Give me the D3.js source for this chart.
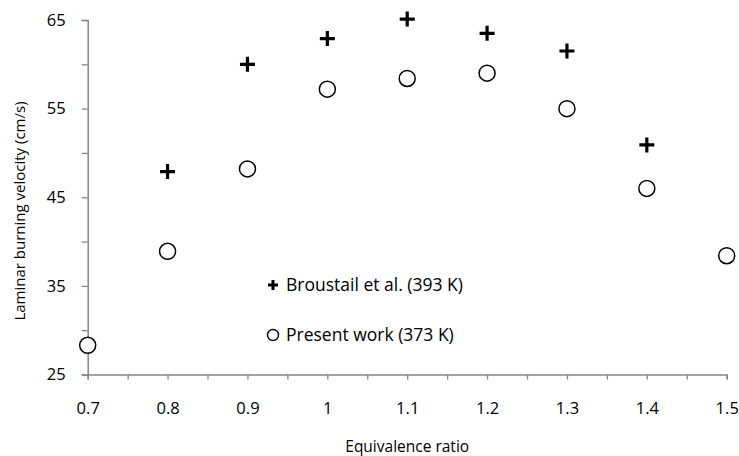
<!DOCTYPE html>
<html>
<head>
<meta charset="utf-8">
<script src="https://cdn.jsdelivr.net/npm/d3@7"></script>
<style>
  html, body { margin: 0; padding: 0; background: #fff; }
  svg { display: block; font-family: "Open Sans", "Lato", sans-serif; }
</style>
</head>
<body>
<svg id="chart" width="739" height="456"></svg>
<script>
// ---- data ----
const phiBroustail = [0.8, 0.9, 1.0, 1.1, 1.2, 1.3, 1.4];
const slBroustail  = [47.9, 60.0, 62.9, 65.1, 63.5, 61.5, 50.9];
const phiPresent   = [0.7, 0.8, 0.9, 1.0, 1.1, 1.2, 1.3, 1.4, 1.5];
const slPresent    = [28.3, 38.9, 48.2, 57.2, 58.4, 59.0, 55.0, 46.0, 38.4];
const xTicks = [0.7, 0.75, 0.8, 0.85, 0.9, 0.95, 1.0, 1.05, 1.1, 1.15, 1.2, 1.25, 1.3, 1.35, 1.4, 1.45, 1.5];
const xTickLabels = ["0.7", "", "0.8", "", "0.9", "", "1", "", "1.1", "", "1.2", "", "1.3", "", "1.4", "", "1.5"];
const yTicks = [25, 30, 35, 40, 45, 50, 55, 60, 65];
const yTickLabels = ["25", "", "35", "", "45", "", "55", "", "65"];
const legendLabels = ["Broustail et al. (393 K)", "Present work (373 K)"];
const xTitle = "Equivalence ratio";
const yTitle = "Laminar burning velocity (cm/s)";

// ---- layout ----
const svg = d3.select("#chart");
const mLeft = 87.7, mRight = 726.7, mTop = 20, mBottom = 374.5;
const axisColor = "#868686";

const x = d3.scaleLinear().domain([0.7, 1.5]).range([mLeft, mRight]);
const y = d3.scaleLinear().domain([25, 65]).range([mBottom, mTop]);

// y axis
const yAxis = svg.append("g")
  .attr("transform", `translate(${mLeft},0)`)
  .call(d3.axisLeft(y).tickValues(yTicks).tickSize(6).tickPadding(16)
    .tickFormat((d, i) => yTickLabels[i]));
// x axis
const xAxis = svg.append("g")
  .attr("transform", `translate(0,${mBottom})`)
  .call(d3.axisBottom(x).tickValues(xTicks).tickSize(5).tickPadding(23)
    .tickFormat((d, i) => xTickLabels[i]));

[xAxis, yAxis].forEach(g => {
  g.select(".domain").attr("stroke", axisColor).attr("stroke-width", 1.5);
  g.selectAll(".tick line").attr("stroke", axisColor).attr("stroke-width", 1.3);
  g.selectAll(".tick text").attr("fill", "#000").style("font-size", "16.5px")
    .attr("font-family", "Open Sans");
});

// axis titles
svg.append("text")
  .attr("x", (mLeft + mRight) / 2).attr("y", 452)
  .attr("text-anchor", "middle")
  .style("font-size", "15.5px").attr("fill", "#000")
  .text(xTitle);
svg.append("text")
  .attr("transform", `translate(25,211) rotate(-90)`)
  .attr("text-anchor", "middle")
  .style("font-size", "15px").attr("fill", "#000")
  .text(yTitle);

// plus markers
const plusPath = (cx, cy, h) => `M${cx - h},${cy}H${cx + h}M${cx},${cy - h}V${cy + h}`;
svg.append("g").selectAll("path")
  .data(phiBroustail.map((p, i) => [p, slBroustail[i]]))
  .join("path")
  .attr("d", d => plusPath(x(d[0]), y(d[1]), 7.5))
  .attr("stroke", "#000").attr("stroke-width", 3.2).attr("fill", "none");

// circle markers
svg.append("g").selectAll("circle")
  .data(phiPresent.map((p, i) => [p, slPresent[i]]))
  .join("circle")
  .attr("cx", d => x(d[0])).attr("cy", d => y(d[1])).attr("r", 8)
  .attr("fill", "#fff").attr("stroke", "#000").attr("stroke-width", 1.5);

// legend
const legX = 273, legY = [285, 335];
const leg = svg.append("g");
leg.append("path").attr("d", plusPath(legX, legY[0], 5))
  .attr("stroke", "#000").attr("stroke-width", 3).attr("fill", "none");
leg.append("circle").attr("cx", legX).attr("cy", legY[1]).attr("r", 5.5)
  .attr("fill", "#fff").attr("stroke", "#000").attr("stroke-width", 1.4);
legendLabels.forEach((t, i) => {
  leg.append("text").attr("x", 286).attr("y", legY[i]).attr("dy", "0.35em")
    .style("font-size", "17.5px").attr("fill", "#000").text(t);
});
</script>
</body>
</html>
